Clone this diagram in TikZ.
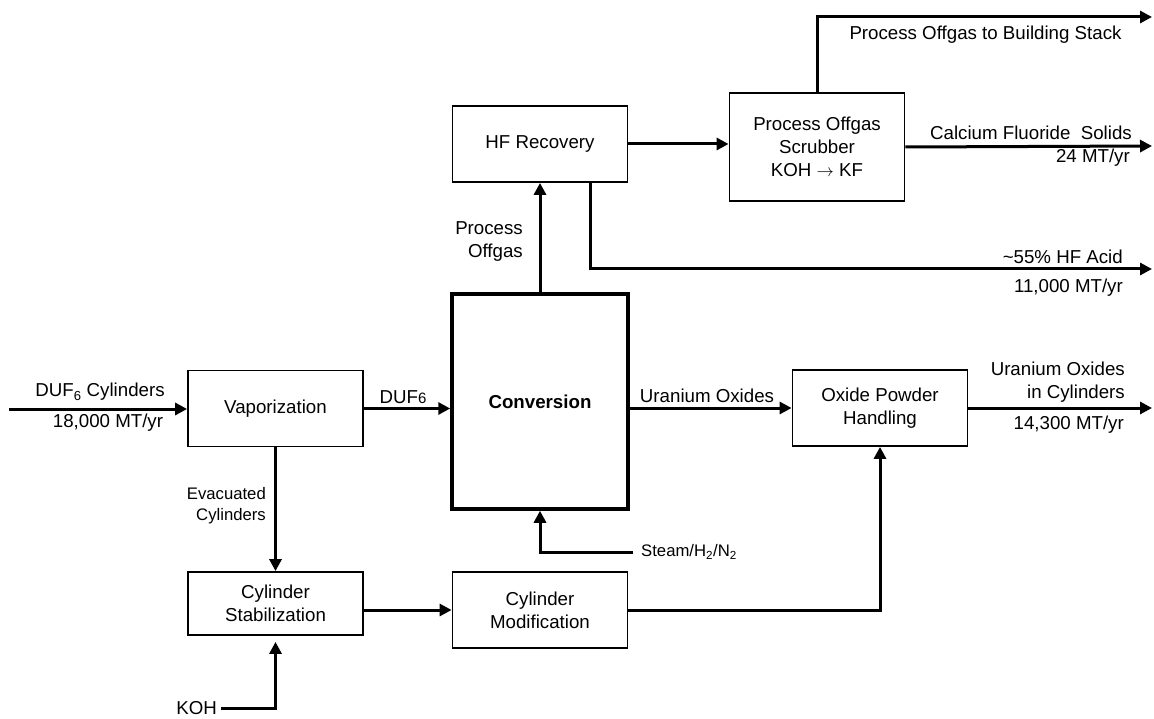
\documentclass[tikz,border=0pt]{standalone}
\usepackage{fontspec}
\setmainfont{Liberation Sans}
\usetikzlibrary{arrows.meta,calc}
\tikzset{
  box/.style={draw, line width=1.8pt, minimum width=175pt, minimum height=76pt, align=center, inner sep=2pt, font=\fontsize{18.7}{23}\selectfont},
  flow/.style={line width=3pt, -{Triangle[length=12pt,width=12pt]}},
  plain/.style={line width=3pt},
  lbl/.style={inner sep=0pt, align=center, font=\fontsize{18.7}{23}\selectfont},
  slbl/.style={inner sep=0pt, align=center, font=\fontsize{16.7}{21}\selectfont},
}
\begin{document}
\begin{tikzpicture}[x=1pt,y=-1pt]
\useasboundingbox (0,0) rectangle (1154,719);
% boxes
\node[box] (vap) at (275.5,408.5) {Vaporization};
\node[box, line width=3.5pt, minimum width=176pt, minimum height=215pt] (conv) at (540,401.5) {\textbf{Conversion}};
\node[box] (hf) at (540,144) {HF Recovery};
\node[box, minimum height=108pt] (scr) at (817,147) {Process Offgas\\Scrubber\\KOH $\rightarrow$ KF};
\node[box] (oph) at (880,408) {Oxide Powder\\Handling};
\node[box, minimum height=63pt] (stab) at (275.5,603.5) {Cylinder\\Stabilization};
\node[box] (mod) at (540,610) {Cylinder\\Modification};
% free ends
\coordinate (in) at (9,409);
\coordinate (stackend) at (1152,17);
\coordinate (caend) at (1152,146);
\coordinate (hfaend) at (1152,269);
\coordinate (uoend) at (1152,408);
\coordinate (steam) at (633,552);
\coordinate (koh) at (221,708);
% connectors
\draw[flow] (in) -- (in -| vap.west);
\draw[flow] (vap.east) -- (vap.east -| conv.west);
\draw[flow] (conv.east |- oph.west) -- (oph.west);
\draw[flow] (oph.east) -- (uoend);
\draw[flow] (conv.north) -- (hf.south);
\draw[flow] (hf.east) -- (hf.east -| scr.west);
\draw[flow] (scr.north) -- (scr.north |- stackend) -- (stackend);
\draw[flow] (scr.east) -- (caend);
\draw[flow] ([xshift=50pt]hf.south) -- ([xshift=50pt]hf.south |- hfaend) -- (hfaend);
\draw[flow] (vap.south) -- (stab.north);
\draw[flow] (stab.east |- mod.west) -- (mod.west);
\draw[flow] (mod.east) -- (mod.east -| oph.south) -- (oph.south);
\draw[flow] (steam) -- (steam -| conv.south) -- (conv.south);
\draw[flow] (koh) -- (koh -| stab.south) -- ([yshift=-6pt]stab.south);
% labels
\node[lbl] (l1) at (100,392) {DUF\textsubscript{6} Cylinders};
\node[lbl] (l2) at (108,423) {18,000 MT/yr};
\node[lbl] (l3) at (403,397) {DUF{\fontsize{15}{15}\selectfont 6}};
\node[slbl, anchor=east, align=right] (l4) at (266,506) {Evacuated\\Cylinders};
\node[lbl, anchor=east] (l5) at (217,708) {KOH};
\node[slbl, anchor=west] (l6) at (641,552) {Steam/H\textsubscript{2}/N\textsubscript{2}};
\node[lbl, anchor=east, align=right] (l7) at (523,242) {Process\\Offgas};
\node[lbl] (l8) at (707,396) {Uranium Oxides};
\node[lbl, anchor=east, align=right] (l9) at (1125,382) {Uranium Oxides\\in Cylinders};
\node[lbl, anchor=east] (l10) at (1124,425) {14,300 MT/yr};
\node[lbl] (l11) at (985.5,35) {Process Offgas to Building Stack};
\node[lbl, anchor=east] (l12) at (1132,133) {Calcium Fluoride\ \ Solids};
\node[lbl, anchor=east] (l13) at (1130,158) {24 MT/yr};
\node[lbl, anchor=east] (l14) at (1123,257) {\textasciitilde 55\% HF Acid};
\node[lbl, anchor=east] (l15) at (1123,288) {11,000 MT/yr};
\end{tikzpicture}
\end{document}
